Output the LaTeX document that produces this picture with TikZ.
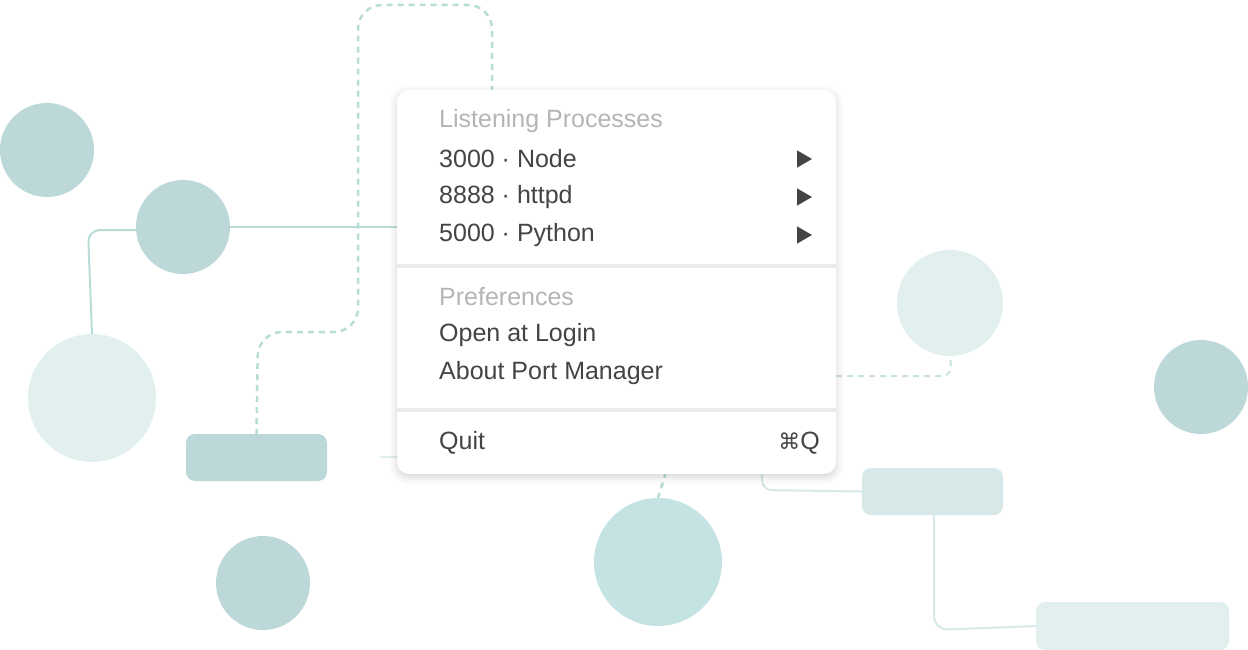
\documentclass[tikz,border=0pt]{standalone}
\usepackage{fontspec}
\setmainfont{Liberation Sans}
\newfontfamily\symf{DejaVu Sans}
\usetikzlibrary{shadows.blur,shapes.geometric}
\definecolor{dk}{HTML}{BDD8D8}
\definecolor{lt}{HTML}{E2EFEF}
\definecolor{md}{HTML}{C6E3E3}
\definecolor{rc}{HTML}{D6E8E8}
\definecolor{ln}{HTML}{B8DCD8}
\definecolor{tx}{HTML}{444444}
\definecolor{gr}{HTML}{B5B5B5}
\begin{document}
\begin{tikzpicture}[x=1pt,y=-1pt,
  circ/.style={circle,inner sep=0pt,draw=none},
  box/.style={rounded corners=9pt,inner sep=0pt,draw=none},
  conn/.style={ln,line width=2pt},
  dconn/.style={ln,line width=2.5pt,dash pattern=on 6pt off 5pt},
  item/.style={anchor=west,font=\fontsize{25}{28}\selectfont,text=tx,inner sep=0pt},
  head/.style={item,text=gr},
  tri/.style={isosceles triangle,fill=tx,inner sep=0pt,minimum width=15pt,minimum height=15pt,isosceles triangle apex angle=60}]
\useasboundingbox (0,0) rectangle (1248,650);
\node[circ,fill=dk,minimum size=94pt] (a) at (47,150) {};
\node[circ,fill=dk,minimum size=94pt] (b) at (183,227) {};
\node[circ,fill=lt,minimum size=128pt] (c) at (92,398) {};
\node[circ,fill=dk,minimum size=94pt] (d) at (263,583) {};
\node[circ,fill=md,minimum size=128pt] (e) at (658,562) {};
\node[circ,fill=lt,minimum size=106pt] (f) at (950,303) {};
\node[circ,fill=dk,minimum size=94pt] (g) at (1201,387) {};
\node[box,fill=dk,minimum width=141pt,minimum height=47pt] (h) at (256.5,457.5) {};
\node[box,fill=rc,minimum width=141pt,minimum height=47pt] (i) at (932.5,491.5) {};
\node[box,fill=lt,minimum width=193pt,minimum height=48pt] (j) at (1132.5,626) {};
% connectors
\coordinate (m1) at (397,227);
\draw[conn] (b.east) -- (m1);
\draw[conn,rounded corners=12pt] (b.west|-0,230) -- (88,230) -- (c.north);
\coordinate (mt) at (492,92);
\draw[dconn,rounded corners=24pt] (mt) -- (492,5) -- (358,5) -- (358,332) -- (258,332) -- (h.north);
\coordinate (mb) at (666,472);
\draw[dconn] (mb) -- (e.north);
\coordinate (mr) at (836,376);
\draw[dconn,ln!80,line width=2pt,rounded corners=10pt] (mr) -- (952,376) -- (f.south);
\coordinate (mb2) at (762,472);
\draw[conn,lt!70!ln,rounded corners=10pt] (mb2) -- (762,490) -- (i.west);
\draw[conn,lt!70!ln,rounded corners=14pt] (i.south-|934,0) -- (934,630) -- (j.west);
\coordinate (ls) at (380,457);
\draw[conn,lt] (ls) -- (397,457);
% menu
\node[box,rounded corners=12pt,fill=white,minimum width=439pt,minimum height=384pt,
  blur shadow={shadow xshift=0pt,shadow yshift=-3pt,shadow blur radius=8pt,shadow opacity=18}] (menu) at (616.5,282) {};
\fill[black!8] (397,264) rectangle (836,268);
\fill[black!8] (397,408) rectangle (836,412);
\node[head] (t1) at (439,121) {Listening Processes};
\node[item] (t2) at (439,159) {3000 · Node};
\node[item] (t3) at (439,197) {8888 · httpd};
\node[item] (t4) at (439,235) {5000 · Python};
\node[tri] (r1) at (802,159) {};
\node[tri] (r2) at (802,197) {};
\node[tri] (r3) at (802,235) {};
\node[head] (t5) at (439,297) {Preferences};
\node[item] (t6) at (439,335) {Open at Login};
\node[item] (t7) at (439,373) {About Port Manager};
\node[item] (t8) at (439,443) {Quit};
\node[item,anchor=east] (t9) at (820,443) {{\symf\fontsize{22}{26}\selectfont ⌘}Q};
\end{tikzpicture}
\end{document}
